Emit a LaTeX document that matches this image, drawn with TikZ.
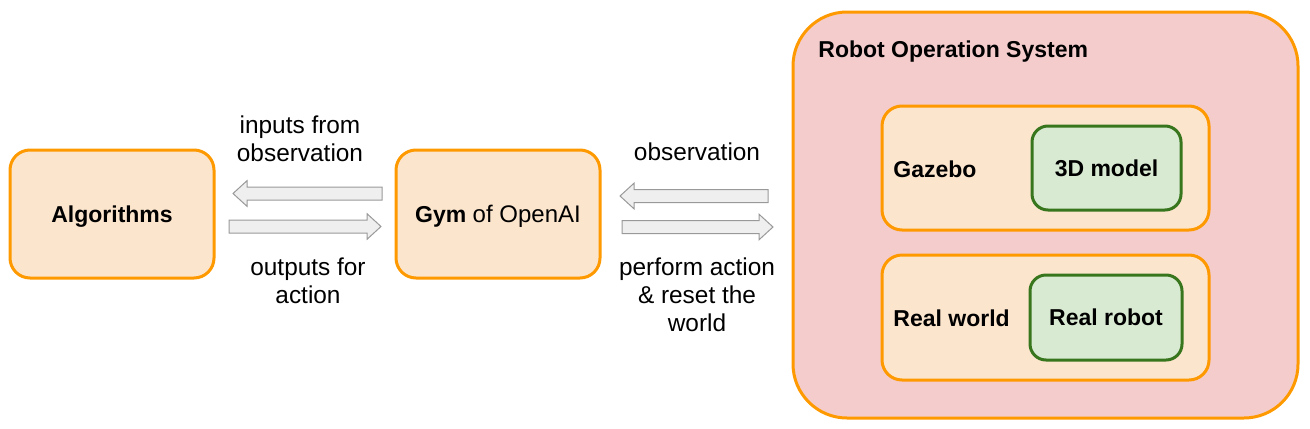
\documentclass[tikz,border=0pt]{standalone}
\usepackage{fontspec}
\setmainfont{Liberation Sans}
\usetikzlibrary{calc}
\definecolor{boxline}{HTML}{FF9900}
\definecolor{boxfill}{HTML}{FCE5CD}
\definecolor{rosfill}{HTML}{F4CCCC}
\definecolor{grline}{HTML}{38761D}
\definecolor{grfill}{HTML}{D9EAD3}
\definecolor{arrline}{HTML}{999999}
\definecolor{arrfill}{HTML}{EFEFEF}
\newcommand{\blockarr}[2]{%
	\draw [hollow] let \p1=(#1), \p2=(#2), \n1={sign(\x2-\x1)} in
		(\x1,\y1+3.25pt) -- (\x2-\n1*7pt,\y1+3.25pt) -- (\x2-\n1*7pt,\y1+6.4pt) -- (\x2,\y1)
		-- (\x2-\n1*7pt,\y1-6.4pt) -- (\x2-\n1*7pt,\y1-3.25pt) -- (\x1,\y1-3.25pt) -- cycle;}
\begin{document}
\begin{tikzpicture}[x=0.5pt,y=-0.5pt,
		every node/.style={font=\fontsize{11.5}{14}\selectfont},
		obox/.style={draw=boxline,fill=boxfill,line width=1.5pt,rounded corners=10pt,minimum width=102pt,minimum height=64pt},
		gbox/.style={draw=grline,fill=grfill,line width=1.5pt,rounded corners=8pt},
		hollow/.style={draw=arrline,fill=arrfill,line width=0.5pt},
		lbl/.style={align=center,inner sep=0pt},
		txt/.style={lbl,font=\fontsize{12.2}{14}\selectfont}]
			\useasboundingbox (0,0) rectangle (1310,428);
			\node [obox,text height=8pt,text depth=0pt] (alg) at (112,214) {\textbf{Algorithms}};
			\node [obox,text height=8pt,text depth=0pt] (gym) at (498,214) {\textbf{Gym} \fontsize{12}{14}\selectfont of OpenAI};
			\node [obox,fill=rosfill,rounded corners=27pt,minimum width=252.5pt,minimum height=203pt] (ros) at (1045.5,215) {};
			\node [lbl,anchor=west] (rost) at (818,52) {\textbf{Robot Operation System}};
			\node [obox,minimum width=163.5pt,minimum height=62pt] (gaz) at (1045.5,168) {};
			\node [obox,minimum width=163.5pt,minimum height=62.5pt] (rw) at (1045.5,317.5) {};
			\node [lbl,anchor=west] (gazt) at (893,169) {\textbf{Gazebo}};
			\node [lbl,anchor=west] (rwt) at (893,318) {\textbf{Real world}};
			\node [gbox,minimum width=74.5pt,minimum height=42pt] (model) at (1106.5,168) {\textbf{3D model}};
			\node [gbox,minimum width=76pt,minimum height=42.5pt] (robot) at (1106,317.5) {\textbf{Real robot}};
			\node [txt] (in) at (300,139) {inputs from\\observation};
			\node [txt] (out) at (308,281) {outputs for\\action};
			\node [txt] (obs) at (697,152) {observation};
			\node [txt] (act) at (697,295) {perform action\\\& reset the\\world};
			\coordinate (a1) at (382,193.5);
			\coordinate (a2) at (233,193.5);
			\coordinate (b1) at (229,226.5);
			\coordinate (b2) at (381,226.5);
			\coordinate (c1) at (768,196);
			\coordinate (c2) at (620,196);
			\coordinate (d1) at (622,227);
			\coordinate (d2) at (773,227);
			\blockarr{a1}{a2}
			\blockarr{b1}{b2}
			\blockarr{c1}{c2}
			\blockarr{d1}{d2}
		\end{tikzpicture}
\end{document}
